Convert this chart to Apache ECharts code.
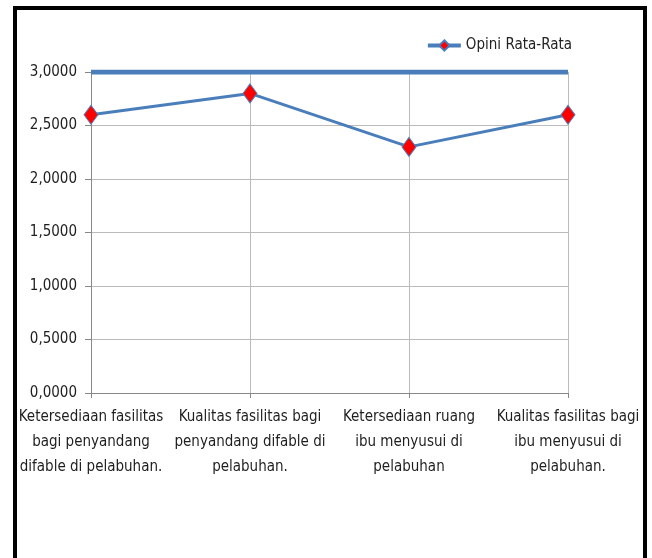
<!DOCTYPE html>
<html>
<head>
<meta charset="utf-8">
<script src="https://cdn.jsdelivr.net/npm/echarts@6/dist/echarts.min.js"></script>
<style>
html, body { margin: 0; padding: 0; background: #fff; }
#main { width: 652px; height: 558px; }
</style>
</head>
<body>
<div id="main"></div>
<script>
var chart = echarts.init(document.getElementById('main'));

var categories = [
    'Ketersediaan fasilitas\nbagi penyandang\ndifable di pelabuhan.',
    'Kualitas fasilitas bagi\npenyandang difable di\npelabuhan.',
    'Ketersediaan ruang\nibu menyusui di\npelabuhan',
    'Kualitas fasilitas bagi\nibu menyusui di\npelabuhan.'
];
var opiniRataRata = [2.6, 2.8, 2.3, 2.6];
var batasAtas = [3, 3, 3, 3];   // garis tebal di 3,0000

var fontName = '"Liberation Sans Narrow", "DejaVu Sans Condensed", sans-serif';

var option = {
    animation: false,
    graphic: [{
        type: 'rect',
        shape: { x: 15, y: 8, width: 630, height: 570 },
        style: { fill: 'none', stroke: '#000', lineWidth: 4 }
    }],
    legend: {
        data: ['Opini Rata-Rata'],
        right: 75,
        top: 33,
        itemWidth: 33,
        itemHeight: 13,
        itemGap: 3,
        lineStyle: { width: 4 },
        textStyle: { fontFamily: fontName, fontSize: 15, color: '#222' }
    },
    grid: {
        left: 91,
        right: 84,
        top: 72,
        bottom: 165
    },
    xAxis: {
        type: 'category',
        data: categories,
        boundaryGap: false,
        axisLine: { lineStyle: { color: '#888' } },
        axisTick: { show: true, length: 5, lineStyle: { color: '#888' } },
        splitLine: { show: true, lineStyle: { color: '#bbb' } },
        axisLabel: {
            interval: 0,
            margin: 12,
            fontFamily: fontName,
            fontSize: 15,
            lineHeight: 25,
            color: '#1e1e1e',
            align: 'center'
        }
    },
    yAxis: {
        type: 'value',
        min: 0,
        max: 3,
        interval: 0.5,
        axisLine: { show: true, lineStyle: { color: '#888' } },
        axisTick: { show: true, length: 6, lineStyle: { color: '#888' } },
        splitLine: { show: true, lineStyle: { color: '#bbb' } },
        axisLabel: {
            margin: 14,
            fontFamily: fontName,
            fontSize: 15,
            color: '#1e1e1e',
            formatter: function (v) { return v.toFixed(4).replace('.', ','); }
        }
    },
    series: [{
        name: 'Batas',
        type: 'line',
        data: batasAtas,
        symbol: 'none',
        lineStyle: { color: '#4a7ebb', width: 5 },
        z: 3
    }, {
        name: 'Opini Rata-Rata',
        type: 'line',
        data: opiniRataRata,
        symbol: 'diamond',
        symbolSize: [14, 19],
        showSymbol: true,
        lineStyle: { color: '#4a7ebb', width: 3 },
        itemStyle: { color: '#ff0000', borderColor: '#4a7ebb', borderWidth: 1 },
        z: 4
    }]
};
chart.setOption(option);
</script>
</body>
</html>
